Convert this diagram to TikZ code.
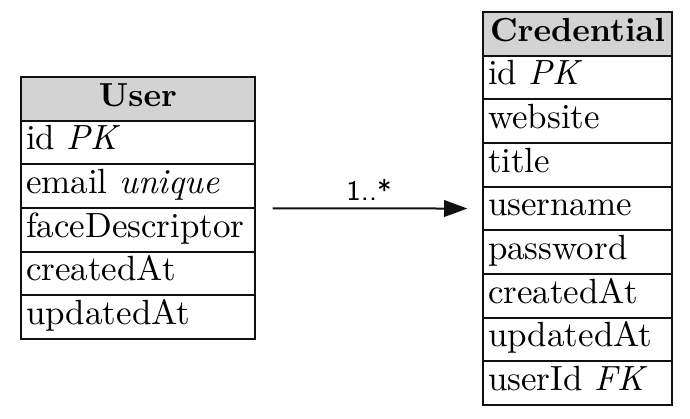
\documentclass[tikz,border=0pt]{standalone}
\usetikzlibrary{arrows.meta,positioning,fit}
\definecolor{headgray}{HTML}{D3D3D3}
\definecolor{edgeblack}{HTML}{111111}
\tikzset{
  cell/.style={draw=edgeblack,line width=0.6pt,outer sep=0pt,inner xsep=1.5pt,inner ysep=0pt,text height=7.7pt,text depth=3.3pt,minimum height=13.1pt,font=\fontsize{10.5}{12}\selectfont},
  tablehead/.style={cell,fill=headgray,align=center,font=\fontsize{10}{12}\selectfont\bfseries},
  tablerow/.style={cell,fill=white,align=left},
  usercol/.style={text width=67.2pt},
  credcol/.style={text width=53.7pt},
  relation/.style={-{Triangle[length=7pt,width=5pt]},line width=0.6pt,draw=edgeblack,shorten <=5.1pt,shorten >=4.5pt},
  mult/.style={font=\fontsize{8.5}{9}\selectfont\sffamily,inner sep=2pt}
}
\begin{document}
\begin{tikzpicture}[x=0.3pt,y=-0.3pt]
  \useasboundingbox (0,0) rectangle (690,419);

  % User table
  \node[tablehead,usercol] (userh) at (138,99) {User};
  \node[tablerow,usercol,below=0pt of userh] (u1) {id \textit{PK}};
  \node[tablerow,usercol,below=0pt of u1] (u2) {email \textit{unique}};
  \node[tablerow,usercol,below=0pt of u2] (u3) {faceDescriptor};
  \node[tablerow,usercol,below=0pt of u3] (u4) {createdAt};
  \node[tablerow,usercol,below=0pt of u4] (u5) {updatedAt};
  \node[fit=(userh)(u5),inner sep=0pt] (user) {};

  % Credential table
  \node[tablehead,credcol] (credh) at (577.5,34) {Credential};
  \node[tablerow,credcol,below=0pt of credh] (c1) {id \textit{PK}};
  \node[tablerow,credcol,below=0pt of c1] (c2) {website};
  \node[tablerow,credcol,below=0pt of c2] (c3) {title};
  \node[tablerow,credcol,below=0pt of c3] (c4) {username};
  \node[tablerow,credcol,below=0pt of c4] (c5) {password};
  \node[tablerow,credcol,below=0pt of c5] (c6) {createdAt};
  \node[tablerow,credcol,below=0pt of c6] (c7) {updatedAt};
  \node[tablerow,credcol,below=0pt of c7] (c8) {userId \textit{FK}};
  \node[fit=(credh)(c8),inner sep=0pt] (cred) {};

  \draw[relation] (user) -- node[mult,above] {1..*} (cred);
\end{tikzpicture}
\end{document}
